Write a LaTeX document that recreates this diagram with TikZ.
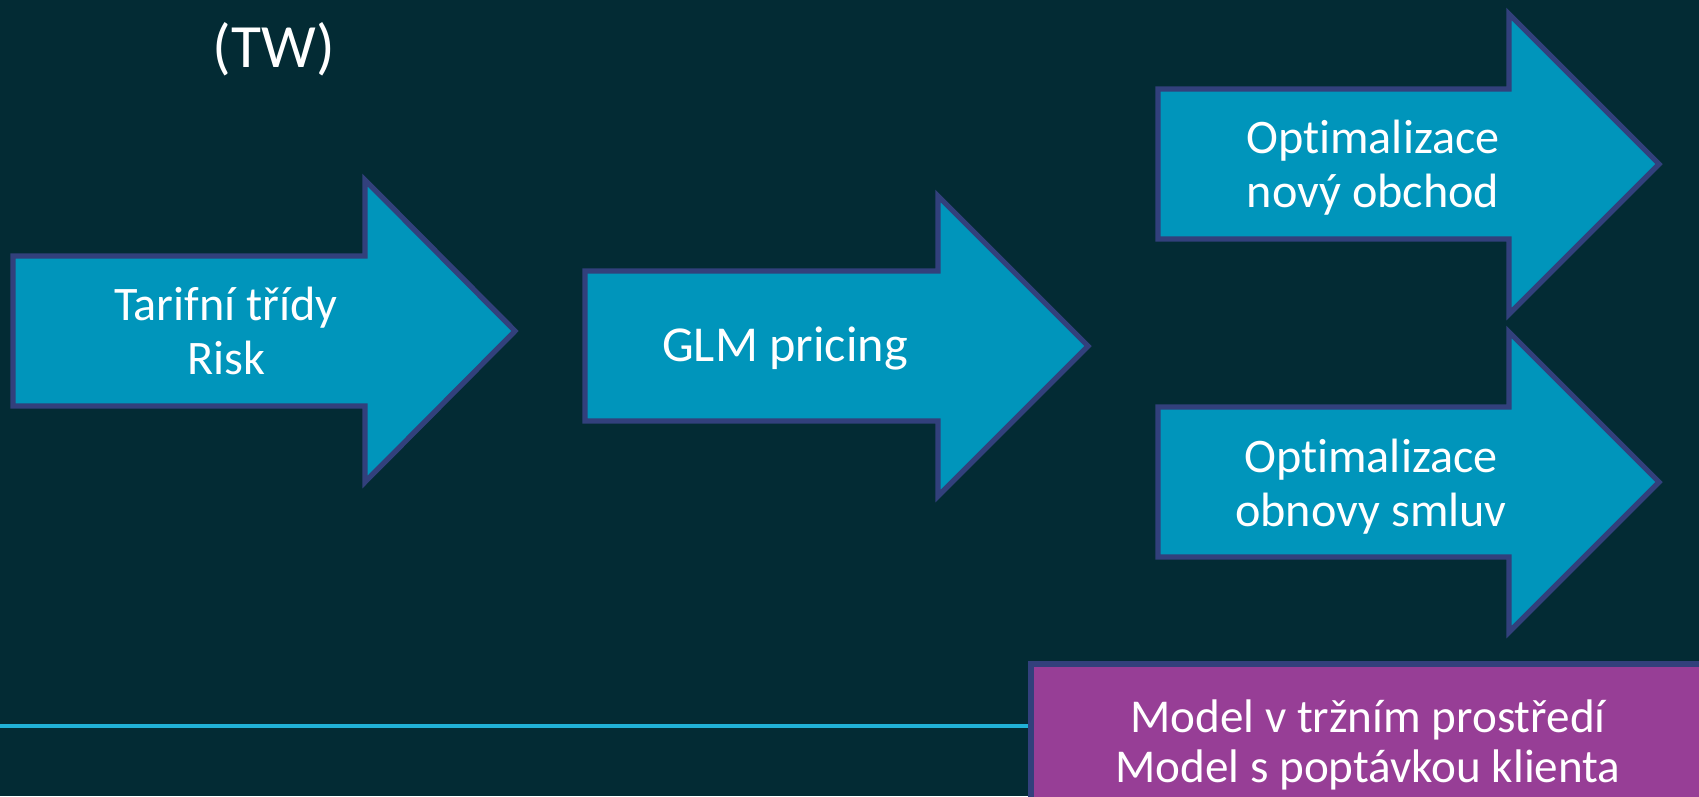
\documentclass[tikz,border=0pt]{standalone}
\usepackage{fontspec}
\setmainfont{Carlito}[RawFeature={-liga;-clig;-calt;-dlig}]
\usepackage{tikz}
\definecolor{slideBg}{HTML}{032B34}
\definecolor{arrowFill}{HTML}{0095BB}
\definecolor{arrowEdge}{HTML}{32407C}
\definecolor{modelFill}{HTML}{973E96}
\definecolor{ruleBlue}{HTML}{21B1D6}
\tikzset{stepArrow/.style={draw=arrowEdge, fill=arrowFill, line width=1.5pt, line join=miter}}
\tikzset{stepText/.style={text=white, align=center, inner sep=0pt, font=\fontsize{13.7}{15.4}\selectfont}}
\tikzset{modelBox/.style={draw=arrowEdge, fill=modelFill, line width=1.5pt}}
\tikzset{modelText/.style={text=white, align=center, inner sep=0pt, font=\fontsize{13.4}{14.4}\selectfont}}
\begin{document}
\begin{tikzpicture}[x=0.01cm, y=-0.01cm]

\fill[slideBg] (0,0) rectangle (1699,796);
\useasboundingbox (0,0) rectangle (1699,796);
\clip (0,0) rectangle (1699,796);

\node[text=white, inner sep=0pt, font=\fontsize{17.5}{20}\selectfont] (tw) at (274,49) {(TW)};

% first step
\draw[stepArrow] (13,256) -- (365,256) -- (365,180) -- (515,331) -- (365,482) -- (365,406) -- (13,406) -- cycle;
\node[stepText] (tarif) at (226,331) {Tarifní třídy\\Risk};

% second step
\draw[stepArrow] (585,271) -- (938,271) -- (938,196) -- (1088,346) -- (938,496) -- (938,421) -- (585,421) -- cycle;
\node[stepText, font=\fontsize{14.3}{15.4}\selectfont] (glm) at (785,349) {GLM pricing};

% optimisation steps
\draw[stepArrow] (1158,89) -- (1509,89) -- (1509,14) -- (1659,164) -- (1509,314) -- (1509,239) -- (1158,239) -- cycle;
\node[stepText] (novy) at (1373,168) {Optimalizace\\nový obchod};

\draw[stepArrow] (1158,407) -- (1509,407) -- (1509,332) -- (1659,482) -- (1509,632) -- (1509,557) -- (1158,557) -- cycle;
\node[stepText] (obnova) at (1371,487) {Optimalizace\\obnovy smluv};

% market model
\draw[ruleBlue, line width=1pt] (0,726) -- (1031,726);
\draw[modelBox] (1031,664) rectangle (1730,830);
\node[modelText] (trh) at (1368,745) {Model v tržním prostředí\\Model s poptávkou klienta};

\end{tikzpicture}
\end{document}
